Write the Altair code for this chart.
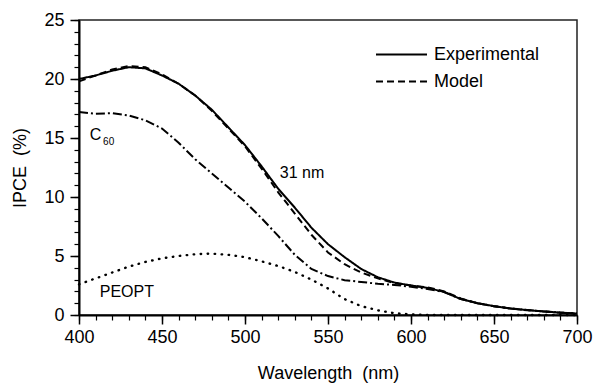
import altair as alt
import pandas as pd

# Wavelength grid (nm) and IPCE curves (%)
wavelength = [400, 410, 420, 430, 440, 450, 460, 470, 480, 490, 500, 510, 520, 530, 540,
              550, 560, 570, 580, 590, 600, 610, 620, 630, 640, 650, 660, 670, 680, 690, 700]
experimental = [20.0, 20.3, 20.7, 21.0, 20.9, 20.3, 19.6, 18.6, 17.4, 15.9, 14.4, 12.6, 10.7, 9.1, 7.4,
                6.0, 4.9, 3.9, 3.2, 2.75, 2.5, 2.3, 1.95, 1.35, 1.0, 0.75, 0.55, 0.42, 0.3, 0.2, 0.12]
model = [19.8, 20.3, 20.8, 21.1, 21.0, 20.4, 19.6, 18.6, 17.3, 15.8, 14.3, 12.4, 10.4, 8.6, 6.8,
         5.3, 4.3, 3.6, 3.1, 2.7, 2.5, 2.35, 2.0, 1.4, 1.0, 0.75, 0.55, 0.4, 0.3, 0.2, 0.12]
c60 = [17.2, 17.05, 17.1, 16.9, 16.5, 15.8, 14.6, 13.2, 12.0, 10.8, 9.6, 8.2, 6.7, 5.1, 3.9,
       3.3, 2.95, 2.8, 2.65, 2.55, 2.4, 2.2, 1.95, 1.35, 1.0, 0.75, 0.55, 0.42, 0.3, 0.2, 0.12]
peopt = [2.6, 3.1, 3.6, 4.1, 4.5, 4.8, 5.0, 5.15, 5.2, 5.1, 4.9, 4.55, 4.15, 3.65, 3.0,
         2.25, 1.35, 0.75, 0.4, 0.15, 0.05, 0.0, 0.0, 0.0, 0.0, 0.0, 0.0, 0.0, 0.0, 0.0, 0.0]

x_major = [400, 450, 500, 550, 600, 650, 700]
x_minor = list(range(400, 701, 10))
y_major = [0, 5, 10, 15, 20, 25]
y_minor = list(range(0, 26))

FONT = "Liberation Sans"

exp_df = pd.DataFrame({"wavelength": wavelength, "ipce": experimental,
                       "series": ["Experimental"] * len(wavelength)})
mod_df = pd.DataFrame({"wavelength": wavelength, "ipce": model,
                       "series": ["Model"] * len(wavelength)})
comp = pd.DataFrame({"wavelength": wavelength, "c60": c60, "peopt": peopt})

xscale = alt.Scale(domain=[400, 700], nice=False, zero=False)
yscale = alt.Scale(domain=[0, 25], nice=False)

major_x = alt.Axis(values=x_major, tickSize=9, tickWidth=1.5, labelPadding=4, labelFlush=False,
                   title="Wavelength\u00a0\u00a0(nm)", titlePadding=18, orient="bottom")
minor_x = alt.Axis(values=x_minor, tickSize=5, tickWidth=1.2, labels=False, domain=False,
                   title=None, orient="bottom")
major_y = alt.Axis(values=y_major, tickSize=9, tickWidth=1.5, labelPadding=6, labelFlush=False,
                   title="IPCE\u00a0\u00a0(%)", titlePadding=14, orient="left")
minor_y = alt.Axis(values=y_minor, tickSize=5, tickWidth=1.2, labels=False, domain=False,
                   title=None, orient="left")


def key_legend(y_offset):
    # one-entry line key in the upper right of the plot
    return alt.Legend(title=None, orient="none", legendX=296, legendY=y_offset,
                      symbolType="stroke", symbolSize=2600, symbolStrokeWidth=2,
                      symbolStrokeColor="black", labelFont=FONT, labelFontSize=18,
                      labelColor="black", labelOffset=6)


exp_line = alt.Chart(exp_df).mark_line(color="black", strokeWidth=2).encode(
    x=alt.X("wavelength:Q", scale=xscale, axis=major_x),
    y=alt.Y("ipce:Q", scale=yscale, axis=major_y),
    strokeDash=alt.StrokeDash("series:N",
                              scale=alt.Scale(domain=["Experimental"], range=[[1, 0]]),
                              legend=key_legend(8)),
)

mod_line = alt.Chart(mod_df).mark_line(color="black", strokeWidth=2).encode(
    x=alt.X("wavelength:Q", scale=xscale, axis=None),
    y=alt.Y("ipce:Q", scale=yscale, axis=None),
    strokeDash=alt.StrokeDash("series:N",
                              scale=alt.Scale(domain=["Model"], range=[[7, 4]]),
                              legend=key_legend(35)),
)

c60_line = alt.Chart(comp).mark_line(color="black", strokeWidth=2, strokeDash=[9, 3, 2, 3]).encode(
    x=alt.X("wavelength:Q", scale=xscale, axis=minor_x),
    y=alt.Y("c60:Q", scale=yscale, axis=minor_y),
)

peopt_line = alt.Chart(comp).mark_line(color="black", strokeWidth=2.4, strokeDash=[0.5, 6.5],
                                       strokeCap="round").encode(
    x=alt.X("wavelength:Q", scale=xscale, axis=None),
    y=alt.Y("peopt:Q", scale=yscale, axis=None),
)

# Curve annotations, placed in data units
notes = pd.DataFrame({
    "wavelength": [406.5, 521.0, 412.5],
    "ipce": [14.8, 11.6, 1.5],
    "text": ["C", "31 nm", "PEOPT"],
})
note_text = alt.Chart(notes).mark_text(font=FONT, fontSize=16, align="left", baseline="alphabetic",
                                       color="black").encode(
    x=alt.X("wavelength:Q", scale=xscale, axis=None),
    y=alt.Y("ipce:Q", scale=yscale, axis=None),
    text="text:N",
)
sub = pd.DataFrame({"wavelength": [414.5], "ipce": [14.4], "text": ["60"]})
sub_text = alt.Chart(sub).mark_text(font=FONT, fontSize=10, align="left", baseline="alphabetic",
                                    color="black").encode(
    x=alt.X("wavelength:Q", scale=xscale, axis=None),
    y=alt.Y("ipce:Q", scale=yscale, axis=None),
    text="text:N",
)

chart = alt.layer(exp_line, mod_line, c60_line, peopt_line, note_text, sub_text).resolve_axis(
    x="independent", y="independent"
).resolve_scale(
    strokeDash="independent"
).properties(
    width=498, height=295,
    autosize=alt.AutoSizeParams(type="none"),
    padding={"left": 79, "top": 20, "right": 16, "bottom": 70},
).configure_view(
    stroke="#222", strokeWidth=1.5
).configure_axis(
    domainColor="black", domainWidth=2, tickColor="black",
    labelFont=FONT, labelFontSize=18, labelColor="black",
    titleFont=FONT, titleFontSize=18, titleFontWeight="normal", titleColor="black",
    grid=False,
)

chart.save("out.html", embed_options={"renderer": "svg", "actions": False})
